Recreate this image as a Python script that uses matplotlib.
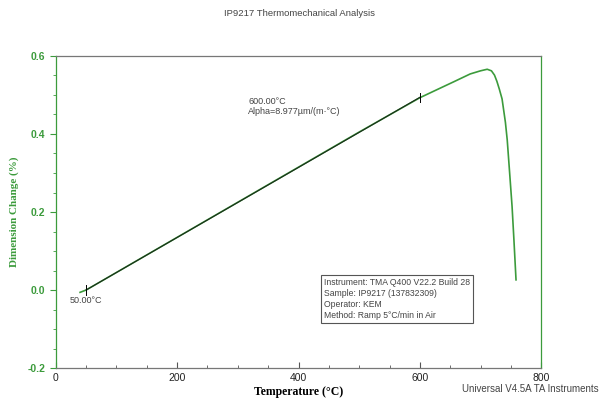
import numpy as np
import matplotlib
matplotlib.use("Agg")
import matplotlib.pyplot as plt
from matplotlib.ticker import MultipleLocator

# 曲线数据
temp_c = [40, 50, 100, 200, 300, 400, 500, 600, 630, 656, 683, 700, 711,
          718, 723, 727, 731, 735.5, 741, 744, 748, 752, 755, 758.5]
dim_change = [-0.006, 0.0, 0.045, 0.135, 0.225, 0.315, 0.405, 0.493, 0.515,
              0.534, 0.554, 0.562, 0.566, 0.562, 0.551, 0.535, 0.515, 0.49,
              0.43, 0.385, 0.30, 0.214, 0.13, 0.026]

# 切线（alpha 计算区间）
tan_temp = [50, 600]
tan_dim = [0.0, 0.494]

info_lines = [
    "Instrument: TMA Q400 V22.2 Build 28",
    "Sample: IP9217 (137832309)",
    "Operator: KEM",
    "Method: Ramp 5\u00b0C/min in Air",
]

green = "#3c9b3c"
gray_txt = "#444444"
plt.rcParams["font.family"] = ["Liberation Sans", "DejaVu Sans"]

fig = plt.figure(figsize=(6, 4), dpi=100)
ax = fig.add_axes([0.093, 0.08, 0.809, 0.78])

ax.plot(temp_c, dim_change, color=green, lw=1.2)
ax.plot(tan_temp, tan_dim, color="#1a2a1a", lw=0.8)
# 端点标记
for t, d in zip(tan_temp, tan_dim):
    ax.plot([t, t], [d - 0.012, d + 0.012], color="black", lw=0.7)

ax.set_xlim(0, 800)
ax.set_ylim(-0.2, 0.6)
ax.xaxis.set_major_locator(MultipleLocator(200))
ax.xaxis.set_minor_locator(MultipleLocator(50))
ax.yaxis.set_major_locator(MultipleLocator(0.2))
ax.yaxis.set_minor_locator(MultipleLocator(0.05))
ax.yaxis.set_major_formatter(plt.FuncFormatter(lambda v, p: f"{v:.1f}"))

ax.tick_params(axis="x", which="both", direction="in", colors="#555555",
               labelcolor="#222222", labelsize=7.5)
ax.tick_params(axis="x", which="major", length=4)
ax.tick_params(axis="x", which="minor", length=2)
ax.tick_params(axis="y", which="both", direction="out", colors=green,
               labelcolor=green, labelsize=7.5)
ax.tick_params(axis="y", which="major", length=4)
ax.tick_params(axis="y", which="minor", length=2)
for lab in ax.get_yticklabels():
    lab.set_fontweight("bold")

ax.spines["left"].set_color(green)
ax.spines["right"].set_color(green)
ax.spines["top"].set_color("#777777")
ax.spines["bottom"].set_color("#777777")
for s in ax.spines.values():
    s.set_linewidth(0.9)

ax.set_xlabel("Temperature (\u00b0C)", family="Liberation Serif",
              fontweight="bold", fontsize=8.5, labelpad=2)
ax.set_ylabel("Dimension Change (%)", family="Liberation Serif",
              fontweight="bold", fontsize=8, color=green, labelpad=6)

fig.text(0.5, 0.965, "IP9217 Thermomechanical Analysis", ha="center",
         va="center", fontsize=6.8, color=gray_txt)
fig.text(0.997, 0.028, "Universal V4.5A TA Instruments", ha="right",
         va="center", fontsize=7, color=gray_txt)

ax.text(317, 0.47, "600.00\u00b0C\nAlpha=8.977\u00b5m/(m\u00b7\u00b0C)",
        fontsize=6.5, color=gray_txt, va="center", linespacing=1.15)
ax.text(23, -0.027, "50.00\u00b0C", fontsize=6.5, color=gray_txt, va="center")

ax.text(0.552, 0.222, "\n".join(info_lines), transform=ax.transAxes,
        fontsize=6.2, color=gray_txt, va="center", ha="left", linespacing=1.3,
        bbox=dict(boxstyle="square,pad=0.35", fc="white", ec="#555555", lw=0.8))

fig.savefig("out.png", dpi=100)
